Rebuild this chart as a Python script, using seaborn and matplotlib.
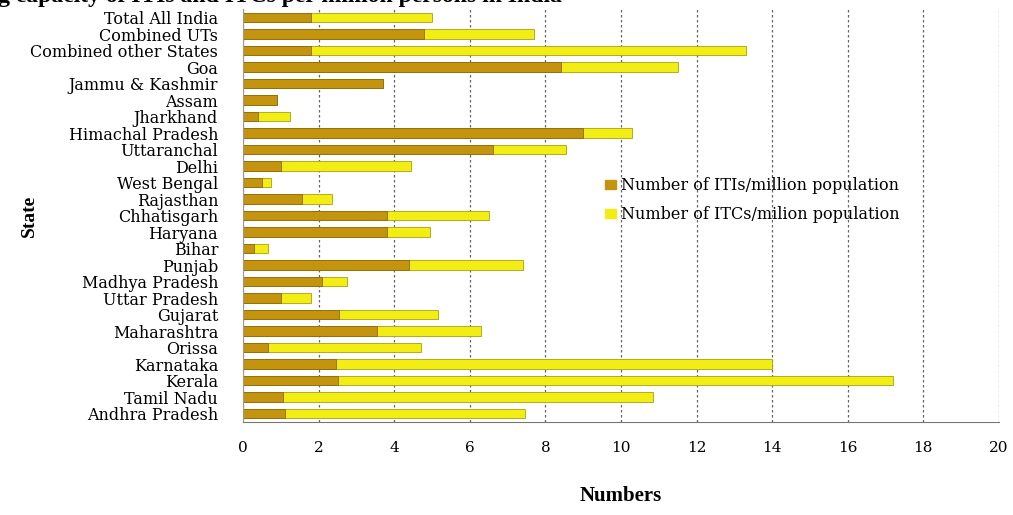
import numpy as np
import pandas as pd
import matplotlib
matplotlib.use('Agg')
import matplotlib.pyplot as plt
import matplotlib.patches as mpatches
import seaborn as sns

states = ['Total All India', 'Combined UTs', 'Combined other States', 'Goa',
          'Jammu & Kashmir', 'Assam', 'Jharkhand', 'Himachal Pradesh',
          'Uttaranchal', 'Delhi', 'West Bengal', 'Rajasthan', 'Chhatisgarh',
          'Haryana', 'Bihar', 'Punjab', 'Madhya Pradesh', 'Uttar Pradesh',
          'Gujarat', 'Maharashtra', 'Orissa', 'Karnataka', 'Kerala',
          'Tamil Nadu', 'Andhra Pradesh']

itis_per_million = [1.8, 4.8, 1.8, 8.4, 3.7, 0.9, 0.4, 9.0, 6.6, 1.0, 0.5, 1.55,
                    3.8, 3.8, 0.3, 4.4, 2.1, 1.0, 2.55, 3.55, 0.65, 2.45, 2.5,
                    1.05, 1.1]
itcs_per_million = [3.2, 2.9, 11.5, 3.1, 0.0, 0.0, 0.85, 1.3, 1.95, 3.45, 0.25,
                    0.8, 2.7, 1.15, 0.35, 3.0, 0.65, 0.8, 2.6, 2.75, 4.05, 11.55,
                    14.7, 9.8, 6.35]

iti_label = 'Number of ITIs/million population'
itc_label = 'Number of ITCs/milion population'

df = pd.DataFrame({'state': states, 'iti': itis_per_million, 'itc': itcs_per_million})
df['total'] = df['iti'] + df['itc']

iti_color = '#C4940E'
itc_color = '#F2EE14'

sns.set_style('white')
plt.rcParams['font.family'] = ['DejaVu Serif']
plt.rcParams['text.color'] = 'black'
plt.rcParams['xtick.color'] = 'black'
plt.rcParams['ytick.color'] = 'black'

fig = plt.figure(figsize=(10.13, 5.15), dpi=100)
ax = fig.add_axes([0.240, 0.181, 0.746, 0.801])

# stacked: draw the total first, then the ITI part over it
sns.barplot(data=df, x='total', y='state', orient='h', color=itc_color,
            width=0.6, edgecolor='#A8A010', linewidth=0.6, saturation=1, ax=ax)
sns.barplot(data=df, x='iti', y='state', orient='h', color=iti_color,
            width=0.6, edgecolor='#8A6A08', linewidth=0.6, saturation=1, ax=ax)

ax.set_xlim(0, 20)
ax.set_xticks(range(0, 21, 2))
ax.xaxis.grid(True, linestyle=(0, (2, 2)), color='#666666', linewidth=0.9)
ax.set_axisbelow(True)
for side in ['top', 'right']:
    ax.spines[side].set_visible(False)
ax.spines['bottom'].set_color('#777777')
ax.spines['left'].set_color('#999999')
ax.tick_params(axis='x', length=0, pad=14, labelsize=11)
ax.tick_params(axis='y', length=0, pad=18, labelsize=11.5)

ax.set_xlabel('Numbers', fontsize=15, fontweight='bold', labelpad=22,
              family='Liberation Serif', color='black')
ax.set_ylabel('State', fontsize=14, fontweight='bold', family='Liberation Serif',
              color='black')
ax.yaxis.set_label_coords(-0.272, 0.5)

handles = [mpatches.Patch(color=iti_color, label=iti_label),
           mpatches.Patch(color=itc_color, label=itc_label)]
fig.legend(handles=handles, loc='center left', bbox_to_anchor=(0.583, 0.612),
           frameon=False, fontsize=11.5, handlelength=0.7, handleheight=0.5,
           handletextpad=0.3, labelspacing=0.75)

fig.text(0.555, 1.006, 'Seating capacity of ITIs and ITCs per million persons in India',
         ha='right', va='center', fontsize=17, fontweight='bold',
         family='Liberation Serif')

fig.savefig('out.png', dpi=100)
